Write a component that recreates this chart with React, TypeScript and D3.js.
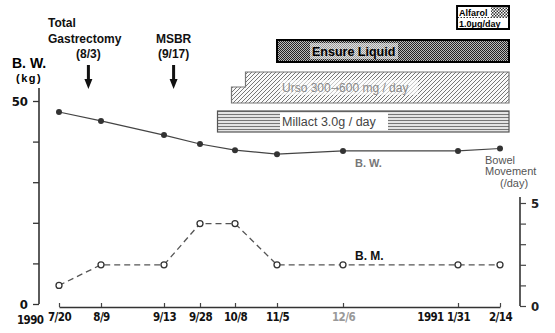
import React, { useEffect, useRef } from 'react';
import * as d3 from 'd3';

// visit dates and values
const visitDates = ['1990-07-20', '1990-08-09', '1990-09-13', '1990-09-28', '1990-10-08', '1990-11-05', '1990-12-06', '1991-01-31', '1991-02-14'];
const visitLabels = ['7/20', '8/9', '9/13', '9/28', '10/8', '11/5', '12/6', '1/31', '2/14'];
const bodyWeight = [47.3, 45.1, 41.6, 39.4, 37.9, 36.9, 37.7, 37.7, 38.3];
const bowelMovement = [1, 2, 2, 4, 4, 2, 2, 2, 2];
const weightTicks = [0, 10, 20, 30, 40, 50];
const bmTicks = [0, 1, 2, 3, 4, 5];

// treatments (start / step / end dates)
const treatments = [
  { id: 'millact', label: 'Millact 3.0g / day', start: '1990-10-03', end: '1991-02-17' },
  { id: 'urso', label: 'Urso 300', label2: '600 mg / day', start: '1990-10-07', step: '1990-10-15', end: '1991-02-17' },
  { id: 'ensure', label: 'Ensure Liquid', start: '1990-11-05', end: '1991-02-17' },
  { id: 'alfarol', label: 'Alfarol', label2: '1.0\u03bcg/day', start: '1991-01-30', end: '1991-02-17' },
];

const events = [
  { lines: ['Total', 'Gastrectomy', '(8/3)'], date: '1990-08-03' },
  { lines: ['MSBR', '(9/17)'], date: '1990-09-17' },
];

const parse = d3.timeParse('%Y-%m-%d');
const condensed = '"DejaVu Sans Condensed", "Liberation Sans Narrow", sans-serif';
const sans = '"Liberation Sans", Arial, sans-serif';

function App() {
  const ref = useRef<SVGSVGElement>(null);

  useEffect(() => {
    const svg = d3.select(ref.current);
    svg.selectAll('*').remove();

    // the hand drawn time axis is not even, so a piecewise time scale
    const anchorDates = [...visitDates.slice(0, 7), '1991-01-01', ...visitDates.slice(7)].map(d => parse(d) as Date);
    const x = d3.scaleTime<number>()
      .domain(anchorDates)
      .range([59, 101, 164, 200, 235, 277, 343, 430, 458, 500]);
    const yW = d3.scaleLinear().domain([0, 50]).range([304, 101]);
    const yB = d3.scaleLinear().domain([0, 5]).range([306, 203]);

    // patterns
    const defs = svg.append('defs');
    const dots = defs.append('pattern').attr('id', 'dots').attr('width', 2).attr('height', 2).attr('patternUnits', 'userSpaceOnUse');
    dots.append('rect').attr('width', 2).attr('height', 2).attr('fill', '#bbb');
    dots.append('rect').attr('width', 1).attr('height', 1).attr('fill', '#222');
    dots.append('rect').attr('x', 1).attr('y', 1).attr('width', 1).attr('height', 1).attr('fill', '#222');

    const coarse = defs.append('pattern').attr('id', 'coarse').attr('width', 3).attr('height', 3).attr('patternUnits', 'userSpaceOnUse');
    coarse.append('rect').attr('width', 3).attr('height', 3).attr('fill', '#fff');
    coarse.append('rect').attr('width', 1.5).attr('height', 1.5).attr('fill', '#333');
    coarse.append('rect').attr('x', 1.5).attr('y', 1.5).attr('width', 1.5).attr('height', 1.5).attr('fill', '#333');

    const hatch = defs.append('pattern').attr('id', 'hatch').attr('width', 4).attr('height', 4).attr('patternUnits', 'userSpaceOnUse');
    hatch.append('rect').attr('width', 4).attr('height', 4).attr('fill', '#fafafa');
    hatch.append('path').attr('d', 'M-1,1 l2,-2 M0,4 l4,-4 M3,5 l2,-2').attr('stroke', '#777').attr('stroke-width', 1);

    const hlines = defs.append('pattern').attr('id', 'hlines').attr('width', 4).attr('height', 3).attr('patternUnits', 'userSpaceOnUse');
    hlines.append('rect').attr('width', 4).attr('height', 3).attr('fill', '#e4e4e4');
    hlines.append('rect').attr('y', 0).attr('width', 4).attr('height', 1).attr('fill', '#777');

    // treatment bars
    const tr = Object.fromEntries(treatments.map(t => [t.id, t]));
    const px = (d: string) => x(parse(d) as Date);

    const m = tr.millact;
    svg.append('rect').attr('x', px(m.start)).attr('y', 111).attr('width', px(m.end) - px(m.start)).attr('height', 21)
      .attr('fill', 'url(#hlines)').attr('stroke', '#555').attr('stroke-width', 1.2);
    svg.append('rect').attr('x', 280).attr('y', 113).attr('width', 108).attr('height', 17).attr('fill', '#fff');
    svg.append('text').attr('x', 282).attr('y', 126).attr('font-family', sans).attr('font-size', 12.5).attr('fill', '#444')
      .text(m.label);

    const u = tr.urso;
    const ux0 = px(u.start), ux1 = px(u.step as string), ux2 = px(u.end);
    svg.append('path').attr('d', `M${ux0},87 L${ux1},87 L${ux1},72 L${ux2},72 L${ux2},103 L${ux0},103 Z`)
      .attr('fill', 'url(#hatch)').attr('stroke', '#777').attr('stroke-width', 1.2);
    svg.append('rect').attr('x', 280).attr('y', 80).attr('width', 138).attr('height', 15).attr('fill', '#fff').attr('opacity', 0.6);
    const ut = svg.append('text').attr('x', 282).attr('y', 92).attr('font-family', sans).attr('font-size', 12).attr('fill', '#888');
    ut.append('tspan').text(u.label);
    ut.append('tspan').attr('font-family', '"DejaVu Sans", sans-serif').attr('font-size', 10).text('\u2192');
    ut.append('tspan').text(u.label2 as string);

    const e = tr.ensure;
    svg.append('rect').attr('x', px(e.start)).attr('y', 40).attr('width', px(e.end) - px(e.start)).attr('height', 22)
      .attr('fill', 'url(#dots)').attr('stroke', '#000').attr('stroke-width', 2);
    svg.append('rect').attr('x', 310).attr('y', 43).attr('width', 88).attr('height', 16).attr('fill', '#fff').attr('opacity', 0.55);
    svg.append('text').attr('x', 312).attr('y', 56).attr('font-family', sans).attr('font-weight', 'bold').attr('font-size', 12.5)
      .attr('fill', '#000').text(e.label);

    const a = tr.alfarol;
    svg.append('rect').attr('x', px(a.start)).attr('y', 6).attr('width', px(a.end) - px(a.start)).attr('height', 23)
      .attr('fill', 'url(#coarse)').attr('stroke', '#000').attr('stroke-width', 2);
    svg.append('rect').attr('x', px(a.start) + 1).attr('y', 7).attr('width', 33).attr('height', 10).attr('fill', '#fff');
    svg.append('rect').attr('x', px(a.start) + 1).attr('y', 18).attr('width', px(a.end) - px(a.start) - 2).attr('height', 10).attr('fill', '#fff');
    svg.append('text').attr('x', px(a.start) + 2).attr('y', 15.5).attr('font-family', sans).attr('font-weight', 'bold').attr('font-size', 9)
      .text(a.label);
    svg.append('text').attr('x', px(a.start) + 2).attr('y', 26.5).attr('font-family', sans).attr('font-weight', 'bold').attr('font-size', 9)
      .text(a.label2 as string);

    // event annotations with arrows
    events.forEach(ev => {
      const ex = px(ev.date);
      const n = ev.lines.length;
      ev.lines.forEach((line, i) => {
        const row = 3 - n + i;
        svg.append('text')
          .attr('x', i === n - 1 ? ex : (n === 3 ? 48 : ex))
          .attr('y', 27 + row * 15.5)
          .attr('text-anchor', i === n - 1 || n !== 3 ? 'middle' : 'start')
          .attr('font-family', sans).attr('font-weight', 'bold').attr('font-size', 12).attr('fill', '#111')
          .text(line);
      });
      svg.append('path')
        .attr('d', `M${ex - 1.5},65 L${ex + 1.5},65 L${ex + 1.5},79 L${ex + 4},79 L${ex},89 L${ex - 4},79 L${ex - 1.5},79 Z`)
        .attr('fill', '#111');
    });

    // left axis (B.W.)
    svg.append('line').attr('x1', 39).attr('x2', 39).attr('y1', 88).attr('y2', yW(0)).attr('stroke', '#333').attr('stroke-width', 1.6);
    const leftAxis = svg.append('g').attr('transform', 'translate(39,0)')
      .call(d3.axisLeft(yW).tickValues(weightTicks).tickSize(6).tickPadding(5)
        .tickFormat(d => (d === 0 || d === 50 ? String(d) : '')));
    leftAxis.select('.domain').remove();
    leftAxis.selectAll('line').attr('stroke', '#333').attr('stroke-width', 1.3);
    leftAxis.selectAll('text').attr('font-family', condensed).attr('font-weight', 'bold').attr('font-size', 13).attr('fill', '#111');

    svg.append('text').attr('x', 12).attr('y', 68).attr('font-family', sans).attr('font-weight', 'bold').attr('font-size', 14).text('B. W.');
    svg.append('text').attr('x', 16).attr('y', 82).attr('font-family', sans).attr('font-weight', 'bold').attr('font-size', 11)
      .attr('letter-spacing', 1.5).text('(kg)');

    // right axis (B.M.)
    svg.append('line').attr('x1', 520).attr('x2', 520).attr('y1', 197).attr('y2', yB(0)).attr('stroke', '#333').attr('stroke-width', 1.6);
    const rightAxis = svg.append('g').attr('transform', 'translate(520,0)')
      .call(d3.axisRight(yB).tickValues(bmTicks).tickSize(6).tickPadding(5)
        .tickFormat(d => (d === 0 || d === 5 ? String(d) : '')));
    rightAxis.select('.domain').remove();
    rightAxis.selectAll('line').attr('stroke', '#444').attr('stroke-width', 1.2);
    rightAxis.selectAll('text').attr('font-family', condensed).attr('font-weight', 'bold').attr('font-size', 13).attr('fill', '#222');

    const bmLabel = svg.append('text').attr('font-family', sans).attr('font-size', 11).attr('fill', '#555');
    bmLabel.append('tspan').attr('x', 485).attr('y', 164).text('Bowel');
    bmLabel.append('tspan').attr('x', 485).attr('y', 175).text('Movement');
    bmLabel.append('tspan').attr('x', 500).attr('y', 187).text('(/day)');

    // bottom time axis
    const ticks = anchorDates;
    const tickText = [...visitLabels.slice(0, 7), '1991', ...visitLabels.slice(7)];
    const bottom = svg.append('g').attr('transform', 'translate(0,307)')
      .call(d3.axisBottom(x).tickValues(ticks).tickSizeInner(-4).tickSizeOuter(0).tickPadding(6)
        .tickFormat((d, i) => tickText[i]));
    bottom.select('.domain').attr('stroke', '#333').attr('stroke-width', 1.6);
    bottom.selectAll('.tick line').attr('stroke', '#444').attr('stroke-width', 1.2)
      .attr('display', (d, i) => (tickText[i] === '1991' ? 'none' : null));
    bottom.selectAll('text').attr('font-family', condensed).attr('font-weight', 'bold').attr('font-size', 11.5)
      .attr('letter-spacing', -0.6)
      .attr('fill', (d, i) => (tickText[i] === '12/6' ? '#999' : '#111'));
    svg.append('text').attr('x', 17).attr('y', 324).attr('font-family', condensed).attr('font-weight', 'bold').attr('font-size', 11.5)
      .attr('letter-spacing', -0.6).attr('fill', '#111').text('1990');

    const pts = visitDates.map((d, i) => ({ date: parse(d) as Date, bw: bodyWeight[i], bm: bowelMovement[i] }));

    // body weight line
    svg.append('path').datum(pts)
      .attr('d', d3.line<typeof pts[0]>().x(d => x(d.date)).y(d => yW(d.bw)))
      .attr('fill', 'none').attr('stroke', '#444').attr('stroke-width', 1.2);
    svg.selectAll('.bw').data(pts).enter().append('circle')
      .attr('cx', d => x(d.date)).attr('cy', d => yW(d.bw)).attr('r', 3).attr('fill', '#333');
    svg.append('text').attr('x', x(pts[6].date) + 12).attr('y', yW(pts[6].bw) + 16)
      .attr('font-family', sans).attr('font-weight', 'bold').attr('font-size', 11).attr('fill', '#777').text('B. W.');

    // bowel movement line
    svg.append('path').datum(pts)
      .attr('d', d3.line<typeof pts[0]>().x(d => x(d.date)).y(d => yB(d.bm)))
      .attr('fill', 'none').attr('stroke', '#555').attr('stroke-width', 1.3).attr('stroke-dasharray', '6,4');
    svg.selectAll('.bm').data(pts).enter().append('circle')
      .attr('cx', d => x(d.date)).attr('cy', d => yB(d.bm)).attr('r', 3)
      .attr('fill', '#fff').attr('stroke', '#333').attr('stroke-width', 1.3);
    svg.append('text').attr('x', x(pts[6].date) + 12).attr('y', yB(pts[6].bm) - 5)
      .attr('font-family', sans).attr('font-weight', 'bold').attr('font-size', 12).attr('fill', '#111').text('B. M.');
  }, []);

  return (
    <svg ref={ref} width={555} height={333} style={{ position: 'absolute', left: 0, top: 0, background: '#fff' }} />
  );
}

export default App;
